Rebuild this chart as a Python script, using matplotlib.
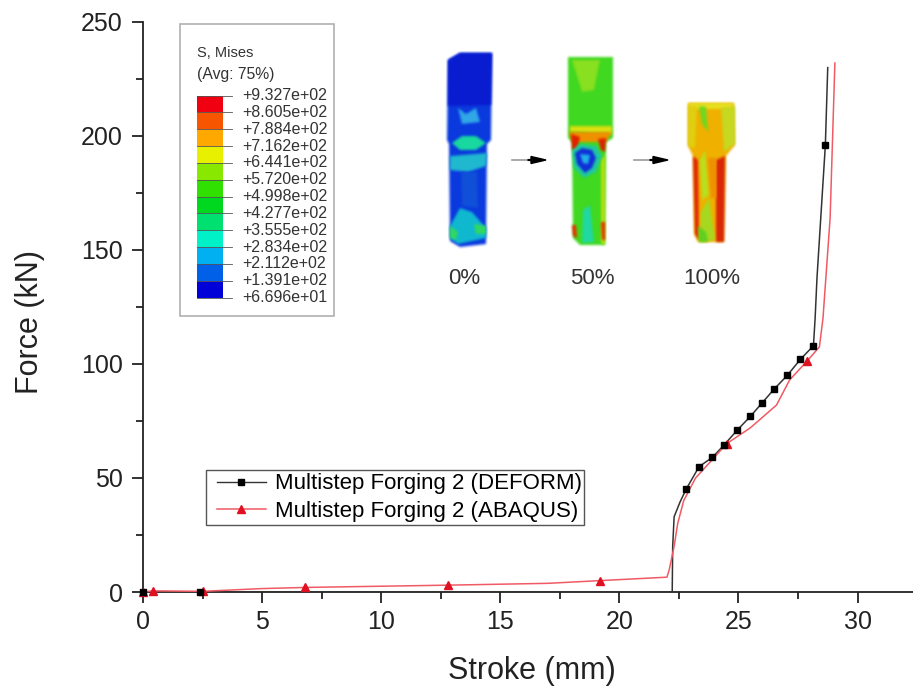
import numpy as np
import matplotlib
matplotlib.use('Agg')
import matplotlib.pyplot as plt
from matplotlib.patches import Polygon, Rectangle, FancyArrow
from matplotlib.ticker import MultipleLocator

plt.rcParams['font.family'] = ['Liberation Sans', 'DejaVu Sans']

deform_x = [0, 2.4, 22.22, 22.24, 22.3, 22.55, 22.8, 23.35, 23.9, 24.4, 24.95, 25.5, 26, 26.5, 27.05, 27.6, 28.15, 28.22, 28.3, 28.65, 28.75]
deform_y = [0, 0, 0, 20, 33, 39.5, 45, 55, 59, 64.5, 71, 77, 83, 89, 95, 102, 108, 120, 138, 196, 230]
deform_mx = [0, 2.4, 22.8, 23.35, 23.9, 24.4, 24.95, 25.5, 26, 26.5, 27.05, 27.6, 28.15, 28.65]
deform_my = [0, 0, 45, 55, 59, 64.5, 71, 77, 83, 89, 95, 102, 108, 196]

abaqus_x = [0, 0.4, 2.5, 5, 6.8, 12.8, 17, 19.2, 22, 22.1, 22.3, 22.45, 22.7, 23.2, 23.9, 24.5, 25.5, 26.6, 27.15, 27.9, 28.4, 28.55, 28.85, 29.05]
abaqus_y = [0, 0.5, 0.3, 1.5, 2, 3, 3.8, 5, 6.5, 10, 20, 30, 40, 50, 58, 65, 72, 82, 93, 101.5, 107.5, 120, 164, 232]
abaqus_mx = [0, 0.4, 2.5, 6.8, 12.8, 19.2, 24.5, 27.9]
abaqus_my = [0, 0.5, 0.3, 2, 3, 5, 65, 101.5]

contour_labels = ['+9.327e+02', '+8.605e+02', '+7.884e+02', '+7.162e+02', '+6.441e+02',
                  '+5.720e+02', '+4.998e+02', '+4.277e+02', '+3.555e+02', '+2.834e+02',
                  '+2.112e+02', '+1.391e+02', '+6.696e+01']
contour_colors = ['#f00010', '#f85500', '#ffa800', '#e8f000', '#88e800', '#30e000',
                  '#00d820', '#00e070', '#00f0c8', '#00b0f0', '#0060e8', '#0000d8']
stage_labels = ['0%', '50%', '100%']

W, H = 913, 690
fig = plt.figure(figsize=(W / 100, H / 100), dpi=100)
ax = fig.add_axes([143 / W, 1 - 592 / H, (913 - 143) / W, (592 - 22) / H])

ax.plot(deform_x, deform_y, color='#333333', lw=1.1, zorder=3)
ax.plot(deform_mx, deform_my, ls='none', marker='s', ms=5, color='black', zorder=5, clip_on=False)
ax.plot(abaqus_x, abaqus_y, color='#f05a64', lw=1.1, zorder=4, clip_on=False)
ax.plot(abaqus_mx, abaqus_my, ls='none', marker='^', ms=6, color='#e01020', zorder=4, clip_on=False)

ax.set_xlim(0, 32.33)
ax.set_ylim(0, 250)
ax.xaxis.set_major_locator(MultipleLocator(5))
ax.xaxis.set_minor_locator(MultipleLocator(2.5))
ax.yaxis.set_major_locator(MultipleLocator(50))
ax.yaxis.set_minor_locator(MultipleLocator(25))
ax.spines['top'].set_visible(False)
ax.spines['right'].set_visible(False)
for s in ['left', 'bottom']:
    ax.spines[s].set_linewidth(1.3)
    ax.spines[s].set_color('#222222')
ax.tick_params(which='major', length=8, width=1.3, labelsize=18, color='#222222', labelcolor='#222222', pad=5)
ax.tick_params(which='minor', length=5, width=1.3, color='#222222')
ax.tick_params(axis='y', which='major', pad=6.5)
ax.set_xlabel('Stroke (mm)', fontsize=22, color='#222222', labelpad=16, x=0.505)
ax.set_ylabel('Force (kN)', fontsize=22, color='#222222', labelpad=26, y=0.474)

h1 = plt.Line2D([], [], color='#333333', lw=1, marker='s', ms=5, mfc='black', mec='black')
h2 = plt.Line2D([], [], color='#f05a64', lw=1.1, marker='^', ms=6, mfc='#e01020', mec='#e01020')
leg = ax.legend([h1, h2], ['Multistep Forging 2 (DEFORM)', 'Multistep Forging 2 (ABAQUS)'],
                loc='lower left', bbox_to_anchor=((217 - 143) / 770, (592 - 522) / 570),
                fontsize=16, frameon=False, borderpad=0, labelspacing=0.3,
                handlelength=2.2, handletextpad=0.4, borderaxespad=0)

# overlay in pixel coordinates for the FE inset
ov = fig.add_axes([0, 0, 1, 1], facecolor='none')
ov.set_xlim(0, W)
ov.set_ylim(H, 0)
ov.axis('off')

ov.add_patch(Rectangle((206, 470), 378, 55, fc='none', ec='#555555', lw=1))

ov.add_patch(Rectangle((180, 24), 154, 292, fc='white', ec='#b0b0b0', lw=1.2))
ov.text(197, 53, 'S, Mises', fontsize=10.5, color='#333333', va='center')
ov.text(197, 75, '(Avg: 75%)', fontsize=11.3, color='#333333', va='center')
top, step = 95.5, 16.85
for i, lab in enumerate(contour_labels):
    y = top + i * step
    if i < 12:
        ov.add_patch(Rectangle((197, y), 26, step, fc=contour_colors[i], ec='none'))
    ov.plot([197, 232], [y, y], color='#555555', lw=0.6)
    ov.text(242, y, lab, fontsize=11.5, color='#333333', va='center')


def smooth(a):
    k = np.array([1, 2, 3, 2, 1]) / 9
    for axis in (0, 1):
        a = np.apply_along_axis(lambda m: np.convolve(m, k, mode='same'), axis, a)
    return a


def blur(im, dpi):
    # soft edges, the inset in the source is a low res raster
    pad = 4
    im2 = np.pad(im, ((pad, pad), (pad, pad), (0, 0)))
    alpha = im2[:, :, 3]
    a2 = smooth(alpha)
    out = np.zeros_like(im2)
    for c in range(3):
        out[:, :, c] = smooth(im2[:, :, c] * alpha) / np.maximum(a2, 1e-4)
    out[:, :, 3] = a2
    return np.clip(out, 0, 1), -pad, -pad


def poly(pts, c, z=6):
    p = Polygon(pts, closed=True, fc=c, ec='none', zorder=z)
    p.set_agg_filter(blur)
    ov.add_patch(p)


# 0 % specimen
poly([(448, 60), (460, 53), (492, 53), (491, 140), (487, 144), (486, 244), (460, 247), (450, 241), (449, 144), (447, 140)], '#0a3adf')
poly([(448, 60), (460, 53), (492, 53), (491, 105), (448, 106)], '#0a1cd0', 7)
poly([(458, 108), (466, 114), (476, 108), (480, 122), (462, 124)], '#30a8e8', 7)
poly([(452, 143), (462, 136), (476, 136), (486, 143), (476, 150), (460, 150)], '#18d8a0', 7)
poly([(450, 156), (487, 153), (486, 166), (468, 172), (450, 170)], '#20b8d0', 7)
poly([(461, 172), (477, 172), (478, 208), (462, 206)], '#1050d8', 7)
poly([(450, 226), (460, 208), (472, 212), (486, 228), (486, 238), (458, 244), (450, 238)], '#10b8d0', 7)
poly([(450, 226), (458, 232), (456, 240), (450, 238)], '#30d860', 8)
poly([(474, 224), (486, 226), (486, 234), (476, 234)], '#30d860', 8)

# 50 % specimen
poly([(568, 57), (613, 57), (613, 138), (606, 142), (605, 245), (580, 245), (573, 238), (572, 142), (568, 138)], '#40d820')
poly([(572, 60), (600, 60), (594, 90), (582, 92)], '#88e020', 7)
poly([(570, 126), (612, 126), (612, 134), (570, 132)], '#d8e010', 7)
poly([(569, 132), (612, 132), (606, 142), (572, 142)], '#f09000', 7)
poly([(571, 134), (580, 137), (577, 150), (572, 150)], '#e02000', 8)
poly([(598, 139), (606, 138), (605, 152), (601, 150)], '#e02000', 8)
poly([(572, 150), (580, 144), (596, 146), (602, 156), (596, 172), (584, 178), (574, 168)], '#20c8a0', 8)
poly([(575, 153), (582, 148), (592, 150), (596, 158), (592, 168), (585, 173), (577, 164)], '#1030d8', 9)
poly([(580, 154), (590, 155), (588, 164), (583, 163)], '#20b0e8', 10)
poly([(583, 210), (590, 205), (594, 242), (582, 243)], '#20d8a0', 7)
poly([(601, 160), (605, 155), (605, 245), (601, 243)], '#b8e010', 7)
poly([(601, 222), (605, 222), (605, 240), (602, 240)], '#e83000', 8)
poly([(572, 225), (576, 225), (577, 238), (573, 236)], '#e83000', 8)

# 100 % specimen
poly([(688, 103), (734, 103), (735, 145), (726, 156), (724, 242), (698, 242), (694, 234), (693, 156), (688, 146)], '#f0b000')
poly([(688, 103), (734, 103), (732, 109), (690, 109)], '#e8e020', 7)
poly([(721, 108), (735, 106), (735, 144), (724, 152)], '#c8d820', 7)
poly([(688, 106), (697, 106), (695, 148), (688, 146)], '#e0d010', 7)
poly([(699, 106), (706, 107), (708, 132), (702, 124)], '#70d820', 8)
poly([(693, 156), (698, 160), (699, 240), (695, 234)], '#e02808', 7)
poly([(716, 160), (725, 156), (724, 242), (716, 242)], '#d82808', 7)
poly([(700, 160), (705, 150), (709, 195), (702, 200)], '#b8e020', 7)
poly([(701, 212), (709, 198), (715, 240), (700, 242)], '#a8d820', 7)
poly([(698, 226), (706, 232), (708, 242), (699, 242)], '#60d020', 8)
poly([(708, 158), (716, 158), (716, 198), (711, 198)], '#f09000', 7)

# arrows between the stages
for xa in (512, 634):
    ov.plot([xa, xa + 18], [160, 160], color='#999999', lw=1.2, zorder=6)
    ov.add_patch(FancyArrow(xa + 16, 160, 18, 0, width=0.8, head_width=7, head_length=15,
                            length_includes_head=True, fc='black', ec='black', zorder=7))

for lab, xc in zip(stage_labels, (464, 592, 712)):
    ov.text(xc, 279, lab, fontsize=16, color='#333333', ha='center', va='center')

fig.savefig('out.png', dpi=100)
